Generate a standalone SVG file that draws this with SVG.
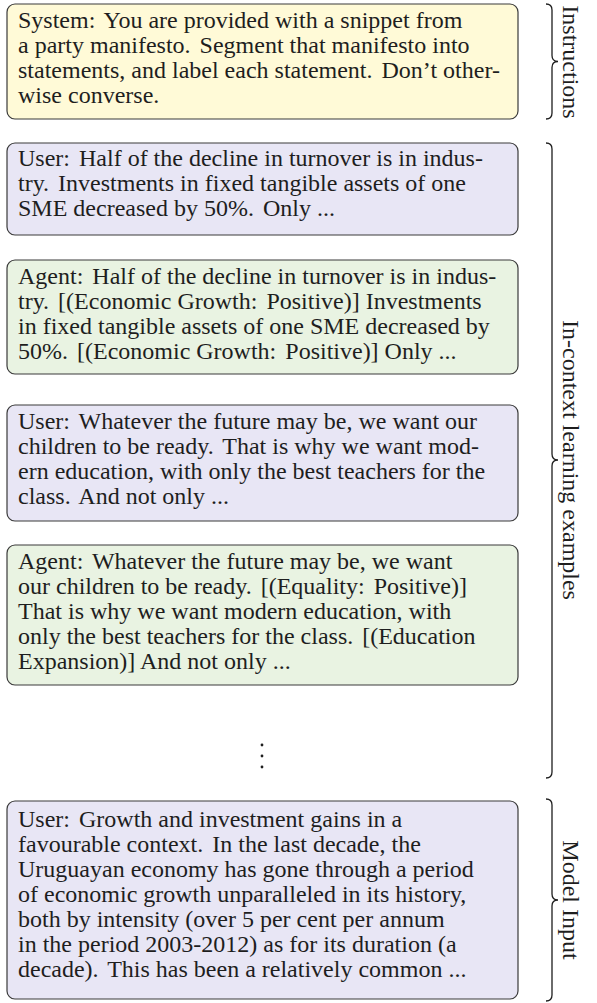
<svg xmlns="http://www.w3.org/2000/svg" width="597" height="1003" viewBox="0 0 597 1003">
<style>
.box{stroke:#3a3a3a;stroke-width:1.2}
.sys{fill:#fffad7}
.usr{fill:#e8e6f5}
.agt{fill:#e9f3e2}
.t{font-family:"Liberation Serif","Times New Roman",serif;font-size:24px;fill:#1e1e1e}
.lbl{font-family:"Liberation Serif","Times New Roman",serif;font-size:24px;fill:#1e1e1e;text-anchor:middle}
.brace{fill:none;stroke:#1e1e1e;stroke-width:1.3}
</style>
<rect width="597" height="1003" fill="#ffffff"/>
<g id="system">
<rect class="box sys" x="7" y="4" width="511" height="115" rx="8"/>
<text class="t" x="18" y="28">System:<tspan dx="3"> You are provided with a snippet from</tspan></text>
<text class="t" x="18" y="53">a party manifesto.<tspan dx="3"> Segment that manifesto into</tspan></text>
<text class="t" x="18" y="78">statements, and label each statement.<tspan dx="3"> Don’t other-</tspan></text>
<text class="t" x="18" y="103">wise converse.</text>
</g>
<g id="user1">
<rect class="box usr" x="7" y="143" width="511" height="92" rx="8"/>
<text class="t" x="18" y="166">User:<tspan dx="3"> Half of the decline in turnover is in indus-</tspan></text>
<text class="t" x="18" y="191">try.<tspan dx="3"> Investments in fixed tangible assets of one</tspan></text>
<text class="t" x="18" y="216">SME decreased by 50%.<tspan dx="3"> Only ...</tspan></text>
</g>
<g id="agent1">
<rect class="box agt" x="7" y="260" width="511" height="114" rx="8"/>
<text class="t" x="18" y="284">Agent:<tspan dx="3"> Half of the decline in turnover is in indus-</tspan></text>
<text class="t" x="18" y="309">try.<tspan dx="3"> [(Economic Growth:</tspan><tspan dx="3"> Positive)] Investments</tspan></text>
<text class="t" x="18" y="334">in fixed tangible assets of one SME decreased by</text>
<text class="t" x="18" y="359">50%.<tspan dx="3"> [(Economic Growth:</tspan><tspan dx="3"> Positive)] Only ...</tspan></text>
</g>
<g id="user2">
<rect class="box usr" x="7" y="405" width="511" height="116" rx="8"/>
<text class="t" x="18" y="429">User:<tspan dx="3"> Whatever the future may be, we want our</tspan></text>
<text class="t" x="18" y="454">children to be ready.<tspan dx="3"> That is why we want mod-</tspan></text>
<text class="t" x="18" y="479">ern education, with only the best teachers for the</text>
<text class="t" x="18" y="504">class.<tspan dx="3"> And not only ...</tspan></text>
</g>
<g id="agent2">
<rect class="box agt" x="7" y="545" width="511" height="140" rx="8"/>
<text class="t" x="18" y="569">Agent:<tspan dx="3"> Whatever the future may be, we want</tspan></text>
<text class="t" x="18" y="594">our children to be ready.<tspan dx="3"> [(Equality:</tspan><tspan dx="3"> Positive)]</tspan></text>
<text class="t" x="18" y="619">That is why we want modern education, with</text>
<text class="t" x="18" y="644">only the best teachers for the class.<tspan dx="3"> [(Education</tspan></text>
<text class="t" x="18" y="669">Expansion)] And not only ...</text>
</g>
<g id="ellipsis" fill="#1e1e1e">
<circle cx="262" cy="745" r="1.4"/>
<circle cx="262" cy="756" r="1.4"/>
<circle cx="262" cy="767" r="1.4"/>
</g>
<g id="user3">
<rect class="box usr" x="7" y="801" width="511" height="198" rx="8"/>
<text class="t" x="18" y="827">User:<tspan dx="3"> Growth and investment gains in a</tspan></text>
<text class="t" x="18" y="852">favourable context.<tspan dx="3"> In the last decade, the</tspan></text>
<text class="t" x="18" y="877">Uruguayan economy has gone through a period</text>
<text class="t" x="18" y="902">of economic growth unparalleled in its history,</text>
<text class="t" x="18" y="927">both by intensity (over 5 per cent per annum</text>
<text class="t" x="18" y="952">in the period 2003-2012) as for its duration (a</text>
<text class="t" x="18" y="977">decade).<tspan dx="3"> This has been a relatively common ...</tspan></text>
</g>
<g id="connectors">
<path class="brace" d="M546,4 Q552,4 552,10 L552,55.5 Q552,61.5 558,61.5 Q552,61.5 552,67.5 L552,113 Q552,119 546,119"/>
<path class="brace" d="M546,143 Q552,143 552,149 L552,454 Q552,460 558,460 Q552,460 552,466 L552,772 Q552,778 546,778"/>
<path class="brace" d="M546,799 Q552,799 552,805 L552,894 Q552,900 558,900 Q552,900 552,906 L552,995 Q552,1001 546,1001"/>
</g>
<g id="labels">
<text class="lbl" transform="translate(563,62) rotate(90)">Instructions</text>
<text class="lbl" transform="translate(563,460) rotate(90)">In-context learning examples</text>
<text class="lbl" transform="translate(563,900) rotate(90)">Model Input</text>
</g>
</svg>
